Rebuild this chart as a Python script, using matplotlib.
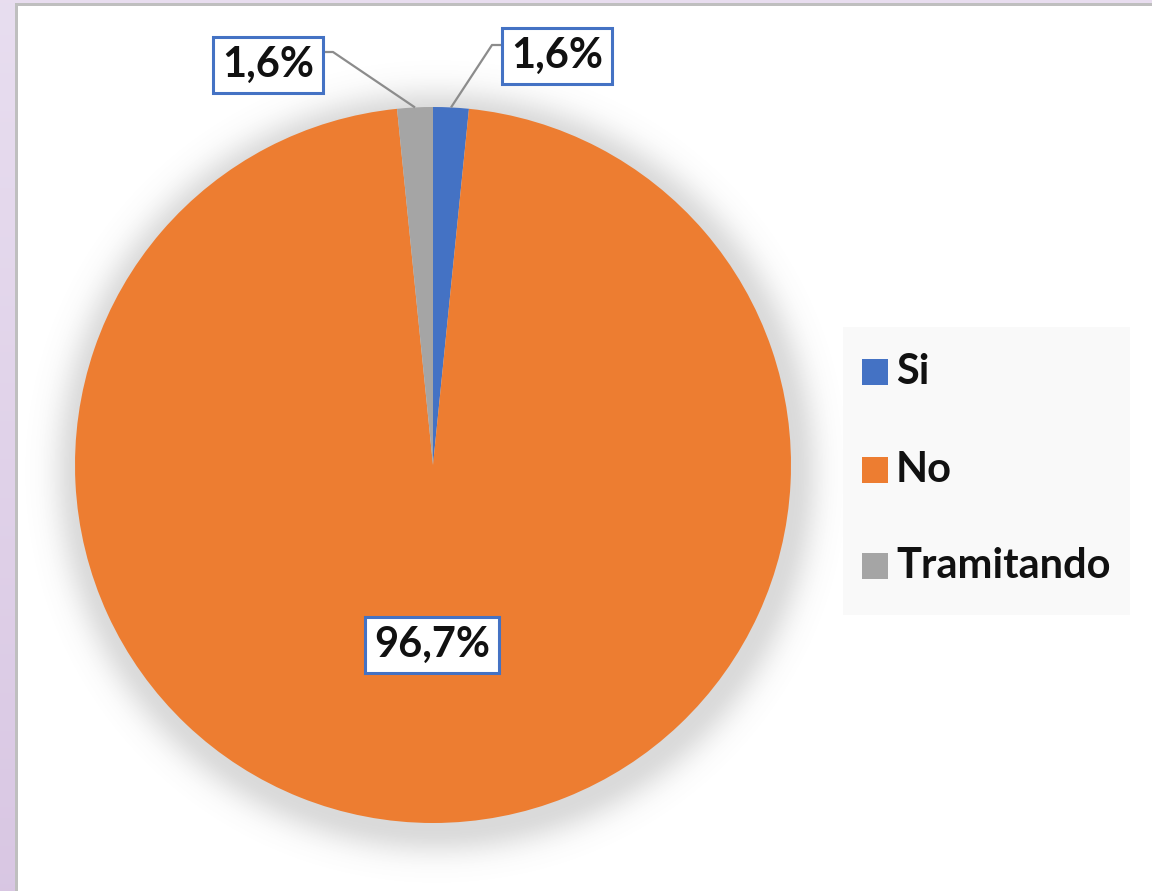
import numpy as np
import matplotlib
matplotlib.use("Agg")
import matplotlib.pyplot as plt
from matplotlib.patches import Rectangle

# ---- data ----
categories = ["Si", "No", "Tramitando"]
values = [1.6, 96.7, 1.6]
value_labels = ["1,6%", "96,7%", "1,6%"]
colors = ["#4472C4", "#ED7D31", "#A5A5A5"]

W, H = 1152, 891
fig = plt.figure(figsize=(W / 100, H / 100), dpi=100)

# background: lavender frame + white chart area
bg = fig.add_axes([0, 0, 1, 1])
bg.set_xlim(0, W)
bg.set_ylim(H, 0)
bg.axis("off")
grad = np.linspace(0, 1, 256).reshape(-1, 1)
top_c = np.array([0.91, 0.87, 0.94])
bot_c = np.array([0.85, 0.78, 0.89])
img = top_c + (bot_c - top_c) * grad[..., None]
img = np.repeat(img, 2, axis=1)
bg.imshow(img, extent=[0, W, H, 0], aspect="auto", zorder=0)
bg.add_patch(Rectangle((15, 3), W, H, facecolor="#BFBFBF", edgecolor="none", zorder=1))
bg.add_patch(Rectangle((17.5, 5.5), W, H, facecolor="white", edgecolor="none", zorder=2))

# pie axes in pixel coordinates (y up)
ax = fig.add_axes([0, 0, 1, 1])
ax.patch.set_alpha(0)
cx, cy, R = 433, H - 465, 358

# soft shadow
yy, xx = np.mgrid[0:H, 0:W]
d = np.hypot(xx - (cx + 3), (H - yy) - (cy - 6))
alpha = np.where(d < R, 0.26, 0.26 * np.exp(-((d - R) / 26.0) ** 2))
shadow = np.zeros((H, W, 4))
shadow[..., :3] = 0.45
shadow[..., 3] = alpha
ax.imshow(shadow, extent=[0, W, 0, H], origin="upper", zorder=0, interpolation="bilinear")

wedges, _ = ax.pie(values, colors=colors, startangle=90, counterclock=False,
                   center=(cx, cy), radius=R, wedgeprops=dict(linewidth=0), frame=False)
for w in wedges:
    w.set_zorder(2)
ax.set_xlim(0, W)
ax.set_ylim(0, H)
ax.set_aspect("equal")
ax.axis("off")

font = "Lato"
fs = 30
box = dict(boxstyle="square,pad=0.22", facecolor="white", edgecolor="#4472C4", linewidth=2.2)

# label positions (pixel coords, y from top) and leader elbows
label_pos = [(557, 56), (432, 645), (268, 65)]
elbows = [((502, 45), (492, 45)), None, ((323, 52), (333, 52))]
for i, w in enumerate(wedges):
    mid = np.deg2rad((w.theta1 + w.theta2) / 2)
    px, py = cx + R * np.cos(mid), cy + R * np.sin(mid)
    lx, ly = label_pos[i]
    if elbows[i] is not None:
        (ax1, ay1), (ax2, ay2) = elbows[i]
        ax.plot([ax1, ax2, px], [H - ay1, H - ay2, py], color="#8C8C8C", lw=1.6, zorder=3,
                solid_capstyle="butt")
    ax.text(lx, H - ly, value_labels[i], ha="center", va="center", fontsize=fs,
            fontweight="bold", family=font, color="#111111", bbox=box, zorder=4)

# legend
ax.add_patch(Rectangle((843, H - 615), 287, 288, facecolor="#F9F9F9", edgecolor="none", zorder=1))
leg_y = [372, 470, 566]
for i, cat in enumerate(categories):
    ax.add_patch(Rectangle((862, H - leg_y[i] - 13), 26, 26, facecolor=colors[i],
                           edgecolor="none", zorder=2))
    ax.text(896, H - leg_y[i], cat, ha="left", va="center", fontsize=fs, fontweight="bold",
            family=font, color="#111111", zorder=3)

fig.savefig("out.png", dpi=100)
